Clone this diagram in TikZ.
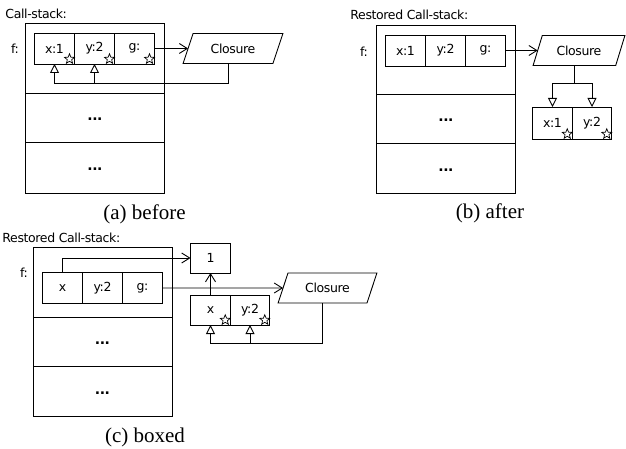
\documentclass[tikz,border=0pt]{standalone}
\usepackage{fontspec}
\setmainfont{DejaVu Sans}[LetterSpace=-3]
\newfontfamily\capfont{Liberation Serif}
\usetikzlibrary{calc}
\usetikzlibrary{arrows.meta}
\usetikzlibrary{shapes.geometric}
\usetikzlibrary{positioning}

\begin{document}
\begin{tikzpicture}[x=1pt,y=1pt,yscale=-1,xscale=1,
  font=\fontsize{12.5}{15}\selectfont,
  line width=0.9pt,
  frame/.style={draw, rectangle, minimum width=139pt, outer sep=0pt, inner sep=0pt, font=\fontsize{14}{16}\selectfont\bfseries, text height=1.5ex, text depth=.25ex},
  cell/.style={draw, rectangle, minimum width=40pt, minimum height=31pt, outer sep=0pt, inner sep=0pt},
  closure/.style={draw, trapezium, trapezium left angle=60, trapezium right angle=120, trapezium stretches=true, minimum width=100pt, minimum height=30pt, inner sep=0pt, outer sep=0pt},
  starmark/.style={draw, star, star points=5, star point ratio=2.3, minimum size=10.5pt, inner sep=0pt, line width=0.7pt},
  refarrow/.style={-{Straight Barb[length=8pt,width=10pt]}},
  envarrow/.style={-{Triangle[open,length=9pt,width=9pt]}},
  title/.style={anchor=west, inner sep=0pt},
  caption/.style={font=\capfont\fontsize{21}{24}\selectfont}]
\useasboundingbox (0,0) rectangle (626,449);

%% (a) before
% Text Node
\node[title] (titlea) at (5,14) {Call-stack:};
\node (fa) at (15,49) {f:};
% Stack frames
\node[frame, minimum height=70pt] (fa1) at (95,58) {};
\node[frame, minimum height=49pt, below=0pt of fa1] (fa2) {...};
\node[frame, minimum height=51pt, below=0pt of fa2] (fa3) {...};
% Frame cells
\node[cell] (ax) at (54.5,48.5) {x:1};
\node[cell, right=0pt of ax] (ay) {y:2};
\node[cell, right=0pt of ay] (ag) {g:};
\foreach \c in {ax,ay,ag}
  \node[starmark] (star-\c) at ($(\c.south east)+(-5,-5)$) {};
\node[closure] (cla) at (233,48.5) {Closure};
% Connectors
\draw[refarrow] (ag) -- (cla);
\coordinate (busa) at ($(ax.south)+(0,19)$);
\draw[envarrow] (cla.bottom side) |- (busa) -- (ax.south);
\draw[envarrow] (ay.south |- busa) -- (ay.south);
\node[caption] (capa) at (144.5,214) {(a) before};

%% (b) after
% Text Node
\node[title] (titleb) at (350,15) {Restored Call-stack:};
\node (fb) at (364,52) {f:};
% Stack frames
\node[frame, minimum height=69pt] (fb1) at (446,59.5) {};
\node[frame, minimum height=49pt, below=0pt of fb1] (fb2) {...};
\node[frame, minimum height=50pt, below=0pt of fb2] (fb3) {...};
% Frame cells
\node[cell] (bx) at (405.5,50.5) {x:1};
\node[cell, right=0pt of bx] (by) {y:2};
\node[cell, right=0pt of by] (bg) {g:};
\node[closure, minimum width=92pt] (clb) at (579,50.5) {Closure};
% Restored environment
\node[cell, minimum width=39.5pt, minimum height=32pt] (bx2) at (552.5,123) {x:1};
\node[cell, minimum width=39.5pt, minimum height=32pt, right=0pt of bx2] (by2) {y:2};
\foreach \c in {bx2,by2}
  \node[starmark] (star-\c) at ($(\c.south east)+(-5,-5)$) {};
% Connectors
\draw[refarrow] (bg) -- (clb);
\coordinate (busb) at ($(clb.bottom side)+(0,18)$);
\draw (clb.bottom side) -- (busb);
\draw[envarrow] (busb) -| (bx2.north);
\draw[envarrow] (busb) -| (by2.north);
\node[caption] (capb) at (490,213) {(b) after};

%% (c) boxed
% Text Node
\node[title] (titlec) at (2,238) {Restored Call-stack:};
\node (fc) at (24,273) {f:};
% Stack frames
\node[frame, minimum height=70pt] (fc1) at (102.5,282) {};
\node[frame, minimum height=49pt, below=0pt of fc1] (fc2) {...};
\node[frame, minimum height=50pt, below=0pt of fc2] (fc3) {...};
% Frame cells
\node[cell] (cx) at (62.5,288) {x};
\node[cell, right=0pt of cx] (cy) {y:2};
\node[cell, right=0pt of cy] (cg) {g:};
% Box
\node[cell, minimum height=30pt] (one) at (210.5,258) {1};
\node[cell, minimum width=39.5pt, minimum height=30pt] (cx2) at (210.5,310) {x};
\node[cell, minimum width=39.5pt, minimum height=30pt, right=0pt of cx2] (cy2) {y:2};
\foreach \c in {cx2,cy2}
  \node[starmark] (star-\c) at ($(\c.south east)+(-5,-5)$) {};
\node[closure, minimum width=99pt] (clc) at (327.5,288) {Closure};
% Connectors
\draw[refarrow] (cx.north) |- (one.west);
\draw[refarrow] (cx2.north) -- (one.south);
\draw[refarrow] (cg) -- (clc);
\coordinate (busc) at ($(cx2.south)+(0,18)$);
\draw[envarrow] (clc.bottom side) |- (busc) -- (cx2.south);
\draw[envarrow] (cy2.south |- busc) -- (cy2.south);
\node[caption] (capc) at (145,437) {(c) boxed};

\end{tikzpicture}
\end{document}
